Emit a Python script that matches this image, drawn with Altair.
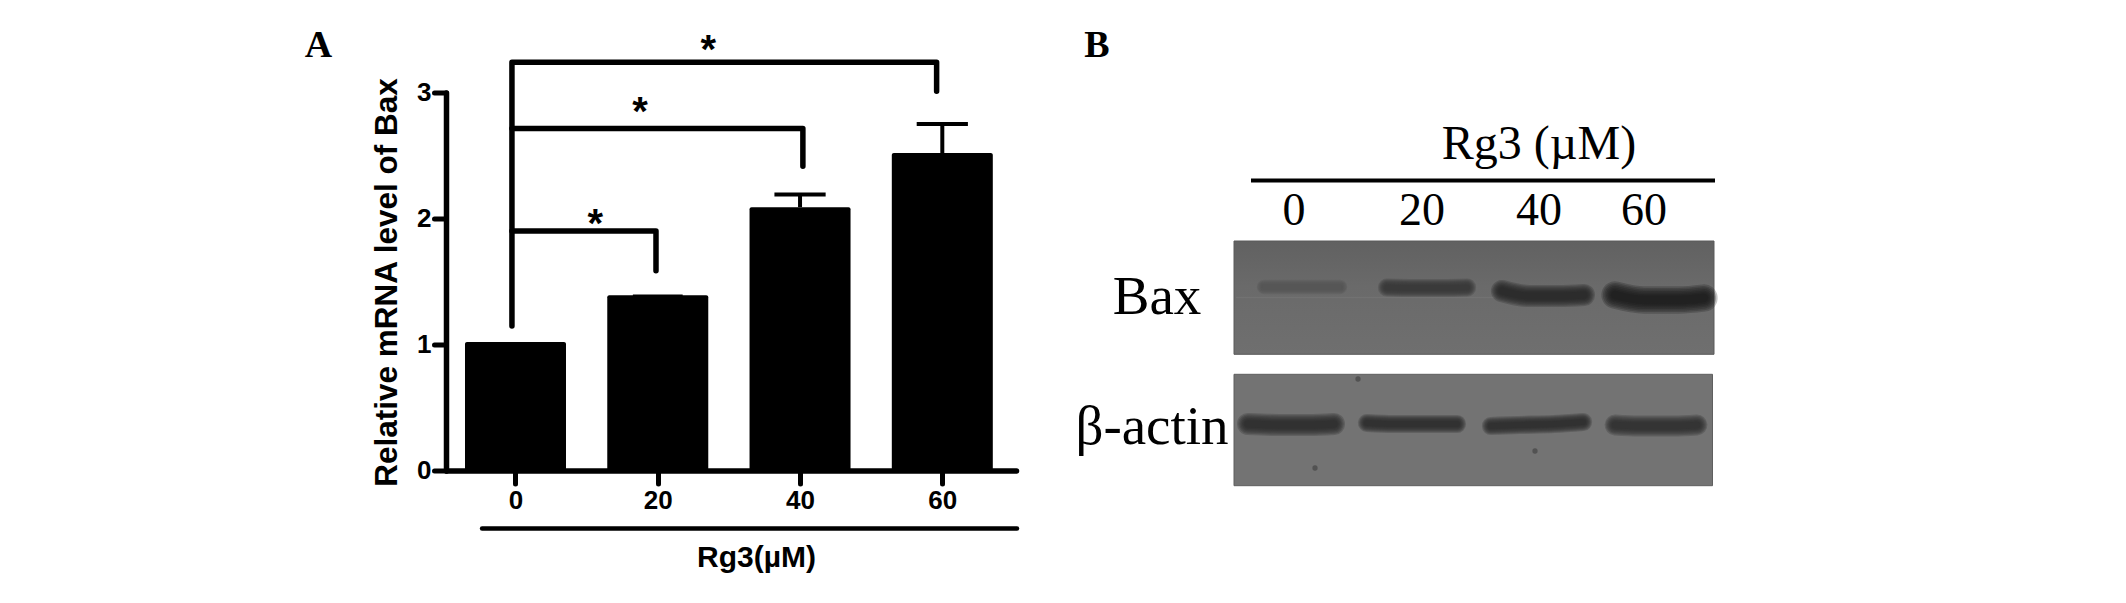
import altair as alt
import pandas as pd

# ---------- Panel A values ----------
doses = [0, 20, 40, 60]
means = [1.02, 1.39, 2.09, 2.52]
err_high = [1.02, 1.39, 2.19, 2.75]
err_half_cap = [0, 3.5, 3.6, 3.6]
cap_widths = [0, 1.5, 4, 4]

bracket_ids = ["c", "c", "c", "c", "b", "b", "b", "a", "a", "a"]
bracket_x = [-0.5, -0.5, 59.2, 59.2, -0.5, 40.4, 40.4, -0.5, 19.75, 19.75]
bracket_y = [1.147, 3.24, 3.24, 3.01, 2.715, 2.715, 2.415, 1.90, 1.90, 1.585]
star_x = [27.1, 17.5, 11.2]
star_y = [3.33, 2.84, 1.95]

# ---------- Panel B values (blot coordinates) ----------
blot_tops = [0, 133.3]
blot_bottoms = [113.3, 244.7]

band_names = ["b0", "b1", "b2", "b3", "a0", "a1", "a2", "a3"]
band_x = [
    [30, 55, 80, 106], [153, 180, 210, 233], [268, 295, 325, 350], [381, 410, 445, 470],
    [14, 45, 75, 100], [133, 160, 195, 223], [257, 285, 320, 349], [381, 405, 440, 463],
]
band_c = [
    [46, 46, 46, 46], [46.5, 47, 47, 46.5], [50, 55, 55, 54], [54, 59, 59, 57],
    [183, 184, 184, 183], [182, 183, 183, 183], [185, 184, 183, 181], [184, 185, 185, 184],
]
band_w = [11, 14, 17, 21, 17, 14, 14, 16]
band_colors = ["#555555", "#343434", "#222222", "#181818", "#262626", "#282828", "#282828", "#2a2a2a"]
blur_factors = [1.3, 1.15, 1.0, 0.85, 0.7, 0.55, 0.4]

speck_x = [124, 81, 301]
speck_y = [138, 227, 210]

lane_labels = ["0", "20", "40", "60"]
lane_x = [60, 188, 305, 410]

AXIS_FONT = "Liberation Sans"
SERIF = "Liberation Serif"
WIDTH, HEIGHT = 570, 378

x_a = alt.Scale(domain=[-9.77, 70.36], nice=False, zero=False, padding=0)
y_a = alt.Scale(domain=[0, 3], nice=False)
x_b = alt.Scale(domain=[0, 480], range=[788, 1268], nice=False, zero=False)
y_b = alt.Scale(domain=[0, 245], range=[148.5, 393.5], nice=False, zero=False)


def xa(f, **k):
    return alt.X(f, type="quantitative", scale=x_a, axis=None, **k)


def ya(f, **k):
    return alt.Y(f, type="quantitative", scale=y_a, axis=None, **k)


def xb(f):
    return alt.X(f, type="quantitative", scale=x_b, axis=None)


def yb(f):
    return alt.Y(f, type="quantitative", scale=y_b, axis=None)


bars_df = pd.DataFrame({"dose": doses, "mean": means, "high": err_high, "cw": cap_widths,
                        "lo": [d - c for d, c in zip(doses, err_half_cap)],
                        "hi": [d + c for d, c in zip(doses, err_half_cap)]})

bars = alt.Chart(bars_df).mark_bar(size=101, color="black", cornerRadius=2, orient="vertical", clip=False).encode(
    x=alt.X("dose:Q", scale=x_a, axis=alt.Axis(
        values=doses, title="Rg3(µM)", grid=False, format="d",
        domainColor="black", domainWidth=5.5, domainCap="round",
        tickColor="black", tickWidth=5, tickSize=13, tickCap="round",
        labelFont=AXIS_FONT, labelFontSize=26, labelFontWeight="bold", labelColor="black", labelPadding=4,
        titleFont=AXIS_FONT, titleFontSize=30, titleFontWeight="bold", titleColor="black",
        titleX=310, titleY=72)),
    y=alt.Y("mean:Q", scale=y_a, stack=None, axis=alt.Axis(
        values=[0, 1, 2, 3], title="Relative mRNA level of Bax", grid=False, format="d",
        domainColor="black", domainWidth=5.5, domainCap="round",
        tickColor="black", tickWidth=5, tickSize=12, tickCap="round",
        labelFont=AXIS_FONT, labelFontSize=26, labelFontWeight="bold", labelColor="black", labelPadding=3,
        titleFont=AXIS_FONT, titleFontSize=31.5, titleFontWeight="bold", titleColor="black",
        titleX=-59, titleY=189.5, titleBaseline="middle")),
)

stems = alt.Chart(bars_df).mark_rule(color="black", strokeWidth=4).encode(x=xa("dose"), y=ya("mean"), y2="high")
caps = alt.Chart(bars_df).mark_rule(color="black").encode(
    x=xa("lo"), x2="hi", y=ya("high"), strokeWidth=alt.StrokeWidth("cw:Q", scale=None))

br_df = pd.DataFrame({"id": bracket_ids, "x": bracket_x, "y": bracket_y, "i": range(len(bracket_x))})
brackets = alt.Chart(br_df).mark_line(color="black", strokeWidth=5.5, strokeCap="round", strokeJoin="round", clip=False).encode(
    x=xa("x"), y=ya("y"), detail="id:N", order="i:Q")

stars = alt.Chart(pd.DataFrame({"x": star_x, "y": star_y, "t": ["*"] * 3})).mark_text(
    font=AXIS_FONT, fontSize=40, fontWeight="bold", color="black", baseline="middle", align="center"
).encode(x=xa("x"), y=ya("y"), text="t:N")

underline = alt.Chart(pd.DataFrame({"x": [-4.7], "x2": [70.5], "y": [-0.46]})).mark_rule(
    color="black", strokeWidth=4.5, strokeCap="round").encode(x=xa("x"), x2="x2", y=ya("y"))

label_a = alt.Chart(pd.DataFrame({"x": [-27.7], "y": [3.28], "t": ["A"]})).mark_text(
    font=SERIF, fontSize=38, fontWeight="bold", color="black", baseline="alphabetic", align="center"
).encode(x=xa("x"), y=ya("y"), text="t:N")

# ---------- Panel B ----------
blot1 = alt.Chart(pd.DataFrame({"x": [0], "x2": [480], "y": [blot_tops[0]], "y2": [blot_bottoms[0]]})).mark_rect(
    color=alt.Gradient(gradient="linear", x1=0, y1=0, x2=0, y2=1, stops=[
        alt.GradientStop(offset=0, color="#616161"),
        alt.GradientStop(offset=0.4, color="#6a6a6a"),
        alt.GradientStop(offset=1, color="#6f6f6f"),
    ]),
    stroke="#5a5a5a", strokeWidth=1,
).encode(x=xb("x"), x2="x2", y=yb("y"), y2="y2")
blot2 = alt.Chart(pd.DataFrame({"x": [0], "x2": [478.5], "y": [blot_tops[1]], "y2": [blot_bottoms[1]]})).mark_rect(
    color="#737373", stroke="#5f5f5f", strokeWidth=1,
).encode(x=xb("x"), x2="x2", y=yb("y"), y2="y2")

streak = alt.Chart(pd.DataFrame({"x": [2], "x2": [260], "y": [56.5]})).mark_rule(
    color="#828282", strokeWidth=1.5, opacity=0.35).encode(x=xb("x"), x2="x2", y=yb("y"))

rows = []
for n, xs, cs, w, col in zip(band_names, band_x, band_c, band_w, band_colors):
    for f in blur_factors:
        for i, (px, c) in enumerate(zip(xs, cs)):
            rows.append({"band": n, "f": f, "col": col, "x": px, "c": c, "w": w * f, "i": i})
bands = alt.Chart(pd.DataFrame(rows)).mark_line(
    interpolate="monotone", opacity=0.25, strokeCap="round", strokeJoin="round"
).encode(
    x=xb("x"), y=yb("c"),
    detail=["band:N", "f:N"],
    order="i:Q",
    color=alt.Color("col:N", scale=None),
    strokeWidth=alt.StrokeWidth("w:Q", scale=None),
)

specks = alt.Chart(pd.DataFrame({"x": speck_x, "y": speck_y})).mark_point(
    filled=True, color="#3c3c3c", size=28, opacity=0.6).encode(x=xb("x"), y=yb("y"))

blot_rule = alt.Chart(pd.DataFrame({"x": [17], "x2": [481], "y": [-60.6]})).mark_rule(
    color="black", strokeWidth=4).encode(x=xb("x"), x2="x2", y=yb("y"))


def serif_text(texts, xs, ys, size, weight="normal"):
    return alt.Chart(pd.DataFrame({"x": xs, "y": ys, "t": texts})).mark_text(
        font=SERIF, fontSize=size, fontWeight=weight, color="black", baseline="alphabetic", align="center"
    ).encode(x=xb("x"), y=yb("y"), text="t:N")


t_title = serif_text(["Rg3 (µM)"], [305], [-82], 48)
t_lanes = serif_text(lane_labels, lane_x, [-16, -16, -16, -16], 46)
t_bax = serif_text(["Bax"], [-77], [72.5], 55)
t_actin = serif_text(["β-actin"], [-82], [202.5], 55)
label_b = serif_text(["B"], [-137], [-183.6], 38, "bold")

chart = alt.layer(
    bars, stems, caps, brackets, stars, underline, label_a,
    blot1, blot2, streak, bands, specks, blot_rule, t_title, t_lanes, t_bax, t_actin, label_b,
).resolve_scale(x="independent", y="independent").properties(
    width=WIDTH, height=HEIGHT, background="white",
    padding={"left": 438, "top": 84.5, "right": 1100, "bottom": 118},
    autosize=alt.AutoSizeParams(type="none"),
).configure_view(stroke=None, strokeWidth=0)

chart.save("out.html", embed_options={"renderer": "svg", "actions": False})
